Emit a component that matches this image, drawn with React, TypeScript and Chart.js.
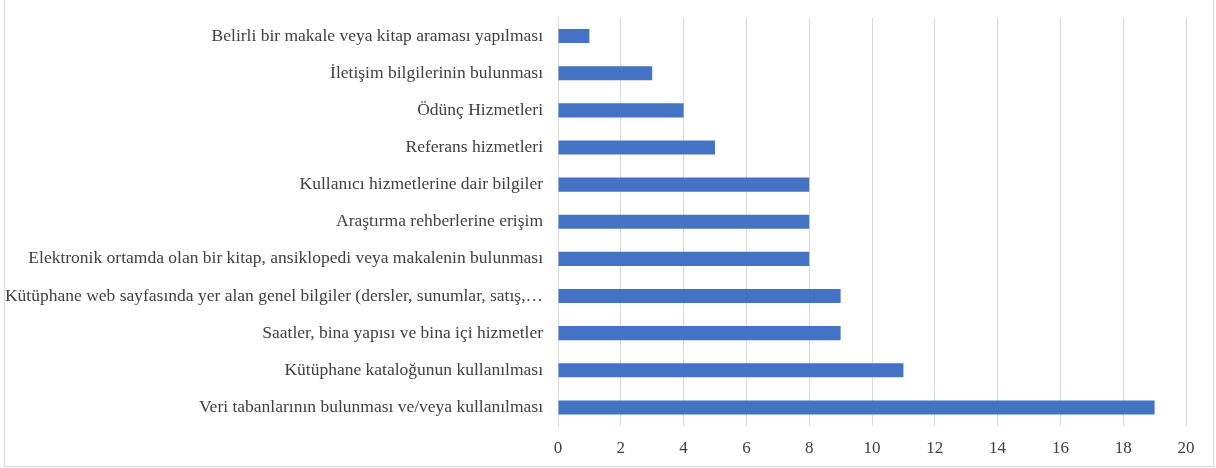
import React, { useEffect, useRef } from "react";
import { Chart, registerables } from "chart.js";

Chart.register(...registerables);

const categories: string[] = [
  "Belirli bir makale veya kitap araması yapılması",
  "İletişim bilgilerinin bulunması",
  "Ödünç Hizmetleri",
  "Referans hizmetleri",
  "Kullanıcı hizmetlerine dair bilgiler",
  "Araştırma rehberlerine erişim",
  "Elektronik ortamda olan bir kitap, ansiklopedi veya makalenin bulunması",
  "Kütüphane web sayfasında yer alan genel bilgiler (dersler, sunumlar, satış,…",
  "Saatler, bina yapısı ve bina içi hizmetler",
  "Kütüphane kataloğunun kullanılması",
  "Veri tabanlarının bulunması ve/veya kullanılması",
];

const values: number[] = [1, 3, 4, 5, 8, 8, 8, 9, 9, 11, 19];

const xMin = 0;
const xMax = 20;
const xStep = 2;

export default function App() {
  const canvasRef = useRef<HTMLCanvasElement | null>(null);

  useEffect(() => {
    document.body.style.margin = "0";
    const canvas = canvasRef.current;
    if (!canvas) return;
    const family = "'Liberation Serif', 'Times New Roman', serif";
    const chart = new Chart(canvas, {
      type: "bar",
      data: {
        labels: categories,
        datasets: [
          {
            data: values,
            backgroundColor: "#4472C4",
            borderWidth: 0,
            barPercentage: 0.38,
            categoryPercentage: 1,
          },
        ],
      },
      options: {
        indexAxis: "y",
        animation: false,
        responsive: false,
        maintainAspectRatio: false,
        layout: { padding: { top: 8, right: 27, bottom: 0, left: 0 } },
        plugins: {
          legend: { display: false },
          tooltip: { enabled: false },
        },
        scales: {
          x: {
            min: xMin,
            max: xMax,
            ticks: { stepSize: xStep, color: "#404040", font: { family, size: 17 }, padding: 12 },
            grid: { color: "#d9d9d9", drawTicks: false },
            border: { display: false },
            afterFit: (scale: any) => {
              scale.height = 40;
            },
          },
          y: {
            grid: { display: false },
            border: { display: true, color: "#d9d9d9" },
            ticks: { color: "#404040", font: { family, size: 17.5 }, padding: 7, autoSkip: false },
            afterFit: (scale: any) => {
              scale.width = 553;
            },
          },
        },
      },
    });
    return () => chart.destroy();
  }, []);

  return (
    <div
      style={{
        position: "fixed",
        left: 4,
        top: -1,
        width: 1208,
        height: 466,
        border: "1px solid #d9d9d9",
        background: "#fff",
      }}
    >
      <canvas ref={canvasRef} width={1208} height={466} style={{ display: "block" }} />
    </div>
  );
}
